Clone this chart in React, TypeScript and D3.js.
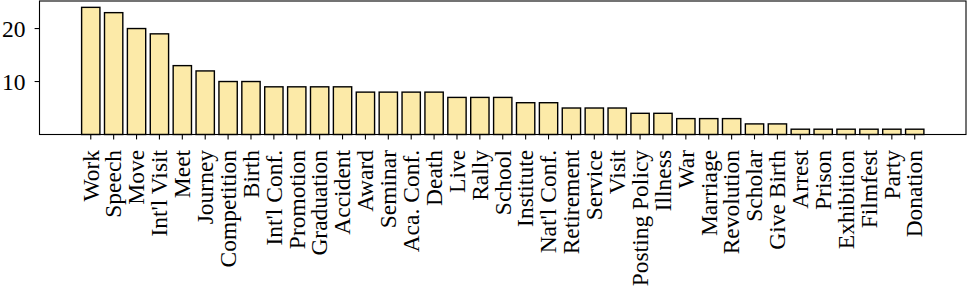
import React from "react";
import * as d3 from "d3";

const categories = [
  "Work", "Speech", "Move", "Int'l Visit", "Meet", "Journey", "Competition", "Birth",
  "Int'l Conf.", "Promotion", "Graduation", "Accident", "Award", "Seminar", "Aca. Conf.",
  "Death", "Live", "Rally", "School", "Institute", "Nat'l Conf.", "Retirement", "Service",
  "Visit", "Posting Policy", "Illness", "War", "Marriage", "Revolution", "Scholar",
  "Give Birth", "Arrest", "Prison", "Exhibition", "Filmfest", "Party", "Donation",
];
const counts = [
  24, 23, 20, 19, 13, 12, 10, 10, 9, 9, 9, 9, 8, 8, 8, 8, 7, 7, 7, 6, 6, 5, 5, 5, 4, 4,
  3, 3, 3, 2, 2, 1, 1, 1, 1, 1, 1,
];
const yTicks = [10, 20];

const W = 968;
const H = 290;
const left = 39.5;
const right = 966;
const top = 1;
const bottom = 134.5;
const fs = 23.5;
const font = "'Liberation Serif', 'Times New Roman', serif";

export default function App() {
  const n = categories.length;
  const barW = 0.8;
  const span = n - 1 + barW;
  const margin = span * 0.05;
  const x = d3
    .scaleLinear()
    .domain([-barW / 2 - margin, n - 1 + barW / 2 + margin])
    .range([left, right]);
  const yMax = d3.max(counts)! * 1.05;
  const y = d3.scaleLinear().domain([0, yMax]).range([bottom, top]);
  const tickLen = 4.9;

  return (
    <svg
      width={W}
      height={H}
      style={{ position: "absolute", left: 0, top: 0, background: "#fff" }}
      fontFamily={font}
    >
      {counts.map((v, i) => (
        <rect
          key={i}
          x={x(i - barW / 2)}
          y={y(v)}
          width={x(i + barW / 2) - x(i - barW / 2)}
          height={y(0) - y(v)}
          fill="#FCEAA8"
          stroke="#000"
          strokeWidth={1.4}
        />
      ))}
      <rect
        x={left}
        y={top}
        width={right - left}
        height={bottom - top}
        fill="none"
        stroke="#000"
        strokeWidth={1.1}
      />
      {yTicks.map((t) => (
        <g key={t}>
          <line x1={left - tickLen} x2={left} y1={y(t)} y2={y(t)} stroke="#000" strokeWidth={1.1} />
          <text
            x={left - tickLen - 9}
            y={y(t)}
            dy="0.34em"
            textAnchor="end"
            fontSize={fs}
          >
            {t}
          </text>
        </g>
      ))}
      {categories.map((c, i) => (
        <g key={c}>
          <line
            x1={x(i)}
            x2={x(i)}
            y1={bottom}
            y2={bottom + tickLen}
            stroke="#000"
            strokeWidth={1.1}
          />
          <text
            transform={`translate(${x(i)},${bottom + tickLen + 10.5}) rotate(-90)`}
            dy="0.33em"
            textAnchor="end"
            fontSize={fs}
          >
            {c}
          </text>
        </g>
      ))}
    </svg>
  );
}
